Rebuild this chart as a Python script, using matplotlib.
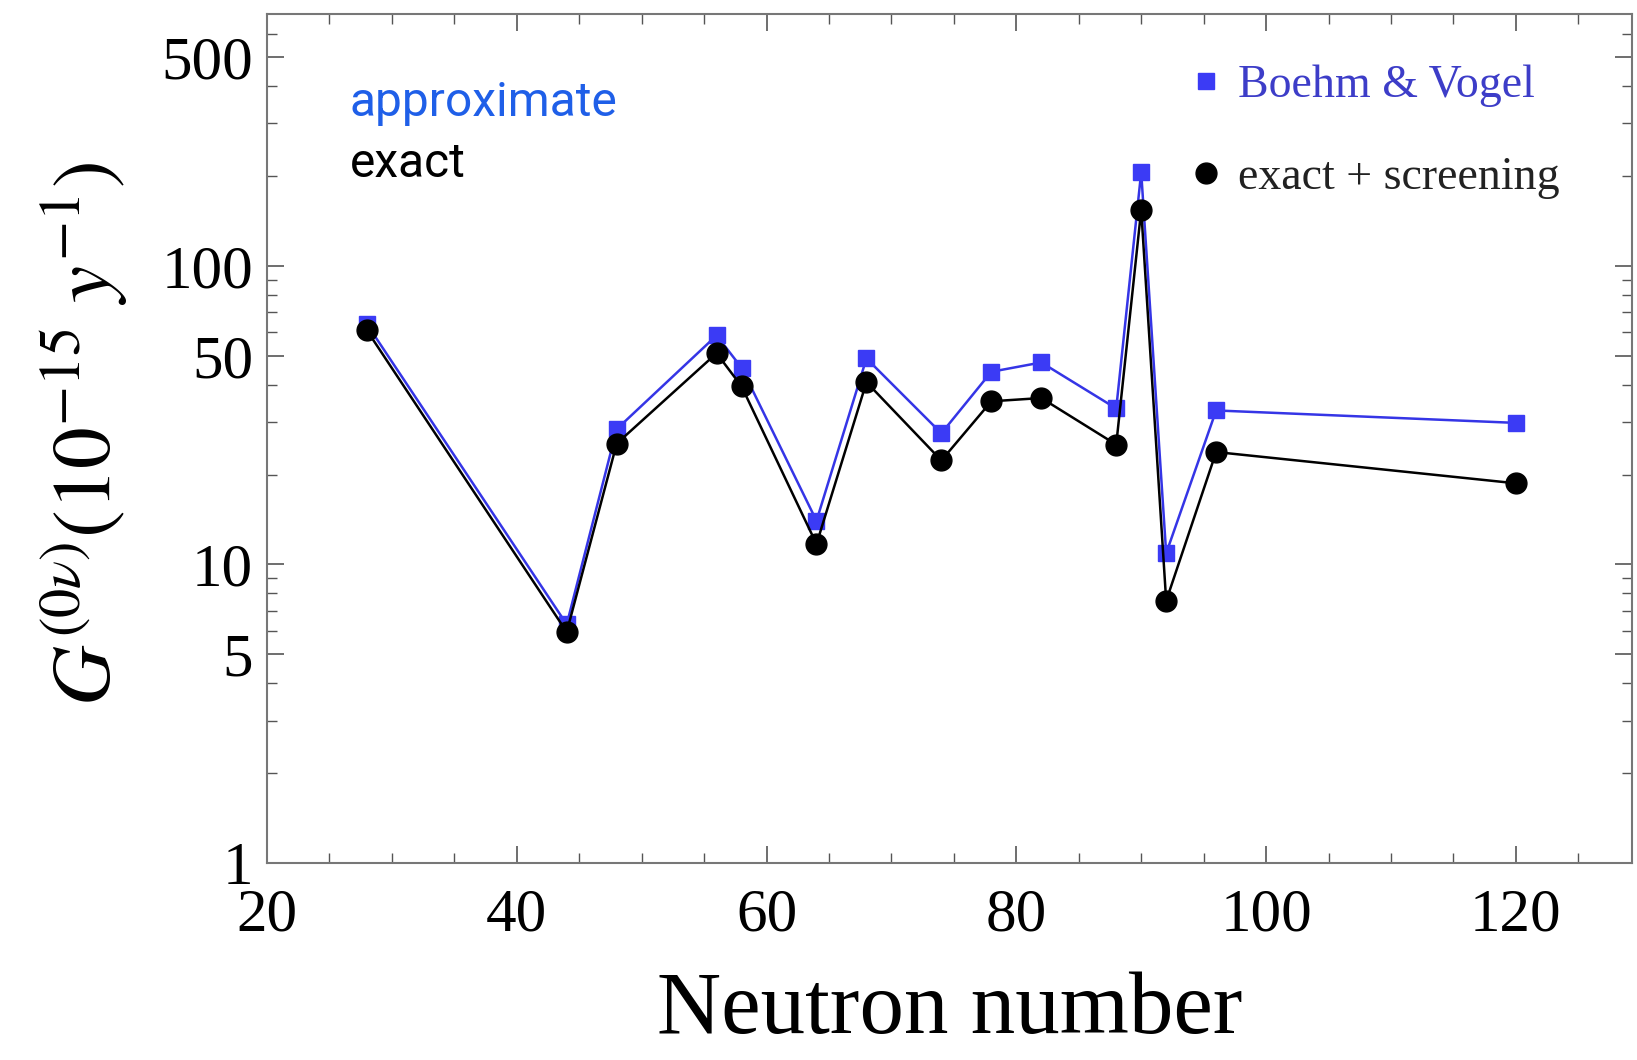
import numpy as np
import matplotlib
matplotlib.use("Agg")
import matplotlib.pyplot as plt
from matplotlib.ticker import MultipleLocator, LogLocator, FixedLocator, NullFormatter

# neutron numbers of the double-beta emitters
neutron_number = [28, 44, 48, 56, 58, 64, 68, 74, 78, 82, 88, 90, 92, 96, 120]

# Boehm & Vogel (approximate)
g_approx = [63.8, 6.3, 28.4, 58.5, 45.6, 14.0, 49.0, 27.5, 44.2, 47.5, 33.3, 206, 10.9, 32.8, 29.8]
# exact + screening
g_exact = [60.8, 5.94, 25.4, 51.0, 39.5, 11.7, 40.8, 22.3, 35.2, 36.1, 25.2, 154, 7.55, 23.8, 18.7]

ytick_values = [1, 5, 10, 50, 100, 500]
ytick_labels = ["1", "5", "10", "50", "100", "500"]
xtick_values = [20, 40, 60, 80, 100, 120]

plt.rcParams['font.family'] = 'serif'
plt.rcParams['font.serif'] = ['Liberation Serif', 'DejaVu Serif']
plt.rcParams['mathtext.fontset'] = 'stix'

W, H = 1637, 1060
fig = plt.figure(figsize=(W / 100, H / 100), dpi=100)
ax = fig.add_axes([267 / W, 1 - 863 / H, (1632 - 267) / W, (863 - 14) / H])

blue = '#3535e6'
ax.plot(neutron_number, g_approx, color=blue, lw=1.8, marker='s', ms=12,
        mfc='#3b3bf5', mec='#3b3bf5', label='Boehm & Vogel', zorder=3)
ax.plot(neutron_number, g_exact, color='black', lw=1.8, marker='o', ms=15,
        mfc='black', mec='black', label='exact + screening', zorder=4)

ax.set_yscale('log')
ax.set_xlim(20, 129.3)
ax.set_ylim(1, 698)

ax.xaxis.set_major_locator(FixedLocator(xtick_values))
ax.xaxis.set_minor_locator(MultipleLocator(5))
ax.yaxis.set_major_locator(FixedLocator(ytick_values))
ax.set_yticklabels(ytick_labels)
ax.yaxis.set_minor_locator(LogLocator(base=10, subs=np.arange(2, 10)))
ax.yaxis.set_minor_formatter(NullFormatter())

ax.tick_params(which='both', direction='in', top=True, right=True, color='#555555')
ax.tick_params(which='major', length=12, width=1.2, labelsize=44, pad=10)
ax.tick_params(which='minor', length=7, width=1.0)
ax.tick_params(axis='x', which='major', pad=18)
for s in ax.spines.values():
    s.set_color('#777777')
    s.set_linewidth(1.5)

ax.set_xlabel('Neutron number', fontsize=64, labelpad=20)
ax.set_ylabel(r'$G^{(0\nu)}(10^{-15}\ y^{-1})$', fontsize=60)
ax.yaxis.set_label_coords(-0.100, 0.505)

leg = ax.legend(loc='upper left', bbox_to_anchor=(0.666, 0.962), frameon=False,
                fontsize=33, handlelength=0.5, handletextpad=0.45, labelspacing=1.08,
                borderaxespad=0)
for line in leg.get_lines():
    line.set_linestyle('none')
leg.get_texts()[0].set_color('#3d3dc8')
leg.get_texts()[1].set_color('#222222')

fig.text(350 / W, 1 - 116 / H, 'approximate', color='#1f5fe8', fontsize=34.5,
         family='Roboto', va='baseline')
fig.text(350 / W, 1 - 177 / H, 'exact', color='black', fontsize=34.5,
         family='Roboto', va='baseline')

fig.savefig('out.png', dpi=100, facecolor='white')
